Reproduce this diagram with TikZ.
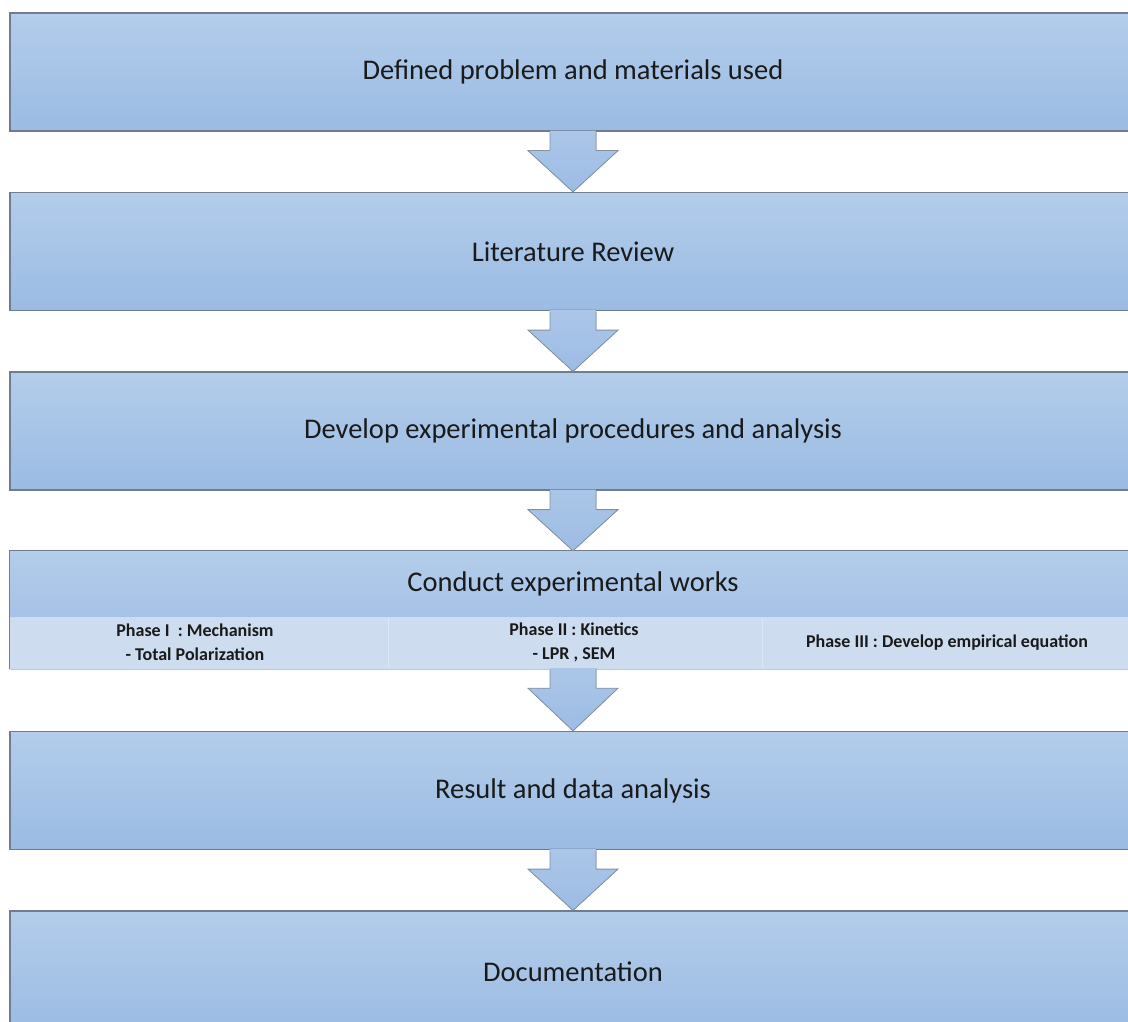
\documentclass[tikz,border=0pt]{standalone}
\usepackage{fontspec}
\setmainfont{Carlito}
\usetikzlibrary{calc}
\definecolor{boxtop}{HTML}{B3CDEA}
\definecolor{boxbot}{HTML}{9BBBE4}
\definecolor{boxmid}{HTML}{A6C2E7}
\definecolor{edge}{HTML}{6F7D8E}
\definecolor{band}{HTML}{CDDCEE}
\definecolor{bandline}{HTML}{DDE7F3}
\definecolor{bandedge}{HTML}{B9C9DF}
\definecolor{arrtop}{HTML}{ABC6E8}
\definecolor{arrbot}{HTML}{9DBCE4}
\definecolor{txt}{HTML}{1A1A1A}
\begin{document}
\begin{tikzpicture}[x=1pt,y=-1pt,
  stepbox/.style={rectangle, minimum width=1126pt, minimum height=118pt, inner sep=0pt,
    top color=boxtop, bottom color=boxbot, draw=edge, line width=1.2pt,
    font=\fontsize{28.5}{34}\selectfont, text=txt},
  topbox/.style={rectangle, minimum width=1126pt, minimum height=66pt, inner sep=0pt,
    top color=boxtop, bottom color=boxmid, font=\fontsize{28.5}{34}\selectfont, text=txt},
  bandbox/.style={rectangle, minimum width=1126pt, minimum height=52pt, inner sep=0pt, fill=band},
  phase/.style={align=center, font=\bfseries\fontsize{18}{24}\selectfont, text=txt, inner sep=0pt},
  arrfill/.style={top color=arrtop, bottom color=arrbot},
  arredge/.style={draw=edge!85, line width=0.8pt, line join=miter}
]
\useasboundingbox (0,0) rectangle (1128,1022);
\clip (0,0) rectangle (1128,1022);
\fill[white] (0,0) rectangle (1128,1022);

\node[stepbox] (b1) at (573,72) {Defined problem and materials used};
\node[stepbox] (b2) at (573,251.5) {Literature Review};
\node[stepbox] (b3) at (573,431) {Develop experimental procedures and analysis};
\node[topbox] (b4) at (573,584) {Conduct experimental works};
\node[bandbox] (b4band) at (573,643) {};
\draw[bandedge, line width=1pt] (b4band.south west) -- (b4band.south east);
\draw[edge, line width=1.2pt] (b4band.south west) -- (b4.north west) -- (b4.north east);
\draw[bandline, line width=1pt] (388,618) -- (388,668) (762,618) -- (762,668);
\node[phase] (p1) at (195,642) {Phase I \ : Mechanism\\- Total Polarization};
\node[phase] (p2) at (574,642) {Phase II : Kinetics\\- LPR , SEM};
\node[phase] (p3) at (947,643) {Phase III : Develop empirical equation};
\node[stepbox] (b5) at (573,790.5) {Result and data analysis};
\node[stepbox, minimum height=121pt] (b6) at (573,971.5) {Documentation};

\foreach \a/\b in {b1/b2, b2/b3, b3/b4, b4band/b5, b5/b6}{
  \fill[arrfill] ($(\a.south)+(-23,-1.2)$) -- ($(\a.south)+(-23,19)$) -- ($(\a.south)+(-45,19)$)
     -- (\b.north) -- ($(\a.south)+(45,19)$) -- ($(\a.south)+(23,19)$) -- ($(\a.south)+(23,-1.2)$) -- cycle;
  \draw[arredge] ($(\a.south)+(-23,0.6)$) -- ($(\a.south)+(-23,19)$) -- ($(\a.south)+(-45,19)$)
     -- (\b.north) -- ($(\a.south)+(45,19)$) -- ($(\a.south)+(23,19)$) -- ($(\a.south)+(23,0.6)$);
}
\end{tikzpicture}
\end{document}
